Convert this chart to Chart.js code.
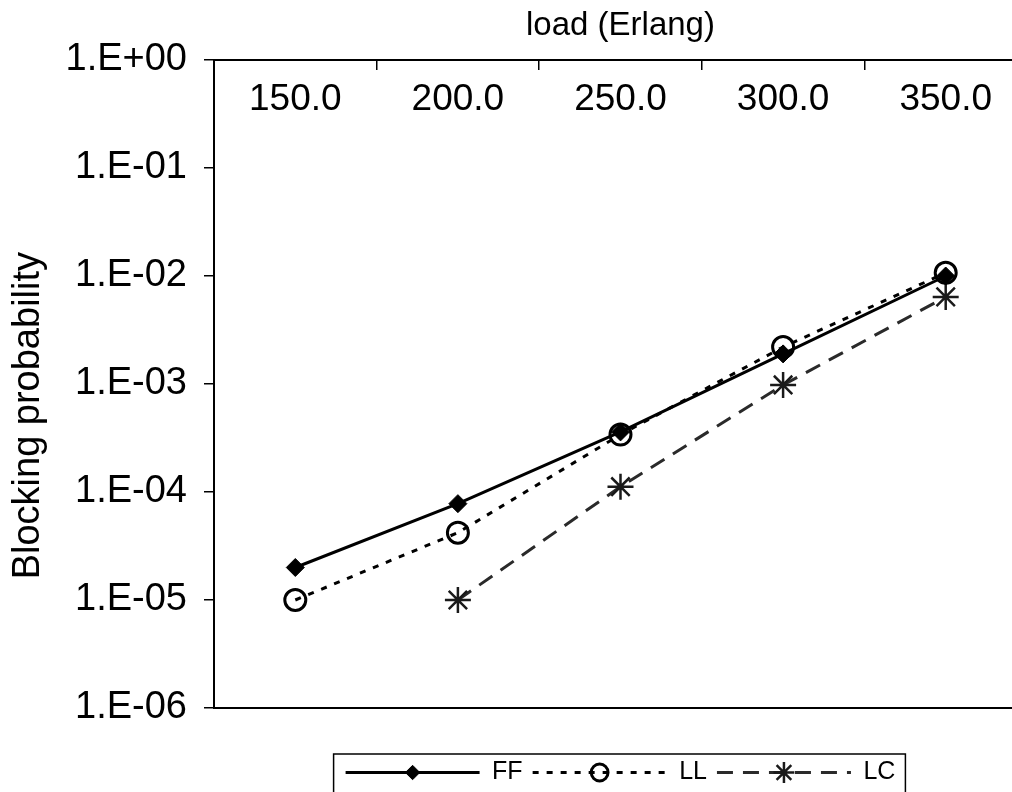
<!DOCTYPE html>
<html>
<head>
<meta charset="utf-8">
<script src="https://cdn.jsdelivr.net/npm/chart.js@4/dist/chart.umd.min.js"></script>
<style>
  html, body { margin: 0; padding: 0; background: #fff; overflow: hidden; }
  #wrap { position: relative; width: 1027px; height: 795px; }
</style>
</head>
<body>
<div id="wrap"><canvas id="chart"></canvas></div>
<script>
// data
const loads = ['150.0', '200.0', '250.0', '300.0', '350.0'];
const ffValues = [2.0e-5, 7.8e-5, 3.6e-4, 1.9e-3, 1.0e-2];
const llValues = [1.0e-5, 4.2e-5, 3.4e-4, 2.2e-3, 1.07e-2];
const lcValues = [null, 1.0e-5, 1.12e-4, 9.8e-4, 6.4e-3];
const yTicks = [1, 1e-1, 1e-2, 1e-3, 1e-4, 1e-5, 1e-6];
const yTickLabels = ['1.E+00', '1.E-01', '1.E-02', '1.E-03', '1.E-04', '1.E-05', '1.E-06'];

Chart.defaults.font.family = "'Liberation Sans', Arial, sans-serif";
Chart.defaults.color = '#000';

// legend frame + markers in the middle of each legend line
const legendExtras = {
    id: 'legendExtras',
    afterDraw(chart) {
        const legend = chart.legend;
        const boxes = legend.legendHitBoxes;
        if (!boxes || !boxes.length) return;
        const ctx = chart.ctx;
        const boxW = chart.options.plugins.legend.labels.pointStyleWidth;
        ctx.save();
        ctx.setLineDash([]);
        ctx.strokeStyle = '#000';
        ctx.lineWidth = 1.5;
        const left = boxes[0].left - 12;
        const last = boxes[boxes.length - 1];
        const right = last.left + last.width + 10;
        ctx.strokeRect(left, legend.top + 4, right - left, legend.bottom - legend.top - 3);
        boxes.forEach((hb, i) => {
            const ds = chart.data.datasets[i];
            ctx.fillStyle = ds.pointBackgroundColor;
            ctx.strokeStyle = ds.pointBorderColor;
            ctx.lineWidth = ds.pointBorderWidth;
            Chart.helpers.drawPoint(ctx, {
                pointStyle: ds.pointStyle,
                radius: ds.pointRadius * 0.8,
                borderWidth: ds.pointBorderWidth,
                rotation: 0
            }, hb.left + boxW / 2, hb.top + 12.5);
        });
        ctx.restore();
    }
};

const ctx = document.getElementById('chart').getContext('2d');
const chart = new Chart(ctx, {
    type: 'line',
    data: {
        labels: loads,
        datasets: [
            {
                label: 'FF',
                data: ffValues,
                borderColor: '#000',
                borderWidth: 3,
                pointStyle: 'rectRot',
                pointRadius: 9,
                pointBackgroundColor: '#000',
                pointBorderColor: '#000',
                pointBorderWidth: 1,
                tension: 0,
            },
            {
                label: 'LL',
                data: llValues,
                borderColor: '#000',
                borderWidth: 3,
                borderDash: [6, 8],
                pointStyle: 'circle',
                pointRadius: 10.5,
                pointBackgroundColor: 'rgba(0,0,0,0)',
                pointBorderColor: '#000',
                pointBorderWidth: 3,
                tension: 0,
            },
            {
                label: 'LC',
                data: lcValues,
                borderColor: '#2a2a2a',
                borderWidth: 3,
                borderDash: [16, 10],
                pointStyle: 'star',
                pointRadius: 13,
                pointBackgroundColor: '#1a1a1a',
                pointBorderColor: '#1a1a1a',
                pointBorderWidth: 2.5,
                tension: 0,
            },
        ],
    },
    options: {
        responsive: true,
        maintainAspectRatio: false,
        animation: false,
        layout: { autoPadding: false, padding: 0 },
        plugins: {
            tooltip: { enabled: false },
            legend: {
                position: 'bottom',
                fullSize: false,
                labels: {
                    font: { size: 25 },
                    color: '#000',
                    usePointStyle: true,
                    pointStyleWidth: 134,
                    padding: 10,
                    generateLabels(chart) {
                        const items = Chart.defaults.plugins.legend.labels.generateLabels(chart);
                        items.forEach((it, i) => {
                            const ds = chart.data.datasets[i];
                            it.pointStyle = 'line';
                            it.lineWidth = ds.borderWidth;
                            it.lineDash = ds.borderDash || [];
                            it.strokeStyle = ds.borderColor;
                        });
                        return items;
                    },
                },
            },
        },
        scales: {
            x: {
                type: 'category',
                position: 'top',
                offset: true,
                afterFit(scale) {
                    scale.height = 60;
                    scale.paddingLeft = 0;
                    scale.paddingRight = 0;
                },
                grid: {
                    offset: true,
                    drawOnChartArea: false,
                    tickLength: -10,
                    color: '#000',
                    lineWidth: 1.5,
                },
                border: { display: true, color: '#000', width: 2 },
                ticks: {
                    mirror: true,
                    font: { size: 37 },
                    color: '#000',
                    padding: 18,
                    maxRotation: 0,
                    autoSkip: false,
                },
                title: {
                    display: true,
                    text: 'load (Erlang)',
                    font: { size: 33 },
                    color: '#000',
                    padding: { top: 6, bottom: 0 },
                },
            },
            x2: {
                type: 'category',
                axis: 'x',
                position: 'bottom',
                offset: true,
                grid: { display: false },
                ticks: { display: false },
                border: { display: true, color: '#000', width: 2 },
                afterFit(scale) {
                    scale.height = 42;
                    scale.paddingLeft = 0;
                    scale.paddingRight = 0;
                },
            },
            y: {
                type: 'logarithmic',
                min: 1e-6,
                max: 1,
                afterFit(scale) { scale.width = 214; },
                afterBuildTicks(axis) {
                    axis.ticks = yTicks.map(v => ({ value: v }));
                },
                grid: {
                    drawOnChartArea: false,
                    tickLength: 10,
                    color: '#000',
                    lineWidth: 1.5,
                },
                border: { display: true, color: '#000', width: 2 },
                ticks: {
                    font: { size: 38 },
                    color: '#000',
                    padding: 17,
                    callback: (value) => yTickLabels[yTicks.indexOf(value)],
                },
                title: {
                    display: true,
                    text: 'Blocking probability      ',
                    font: { size: 38 },
                    color: '#000',
                    padding: { top: 6, bottom: 0 },
                },
            },
        },
    },
    plugins: [legendExtras],
});
</script>
</body>
</html>
